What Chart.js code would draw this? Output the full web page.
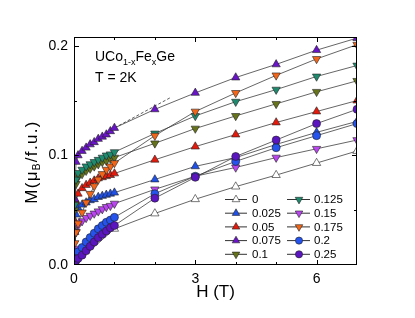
<!DOCTYPE html>
<html>
<head>
<meta charset="utf-8">
<script src="https://cdn.jsdelivr.net/npm/chart.js@4.4.1/dist/chart.umd.min.js"></script>
<style>
html, body { margin: 0; padding: 0; background: #fff; }
</style>
</head>
<body>
<canvas id="chart" width="415" height="318"></canvas>
<script>
// field values (T), shared by every composition
const fieldT = [0, 0.02, 0.05, 0.1, 0.2, 0.3, 0.4, 0.5, 0.6, 0.7, 0.8, 0.9, 1, 2, 3, 4, 5, 6, 7];

// Fe content x
const labels = ['0', '0.025', '0.05', '0.075', '0.1', '0.125', '0.15', '0.175', '0.2', '0.25'];

// M (muB / f.u.) per composition
const m_0    = [0, null, null, null, null, null, null, null, null, null, null, null, 0.033, 0.047, 0.060, 0.0715, 0.082, 0.093, 0.104];
const m_025  = [0, 0.030, 0.046, 0.052, 0.055, 0.057, 0.059, 0.060, 0.062, 0.063, 0.064, 0.065, 0.066, 0.078, 0.090, 0.098, 0.110, 0.121, 0.131];
const m_05   = [0, 0.040, 0.058, 0.065, 0.070, 0.073, 0.075, 0.077, 0.079, 0.080, 0.081, 0.082, 0.0835, 0.096, 0.108, 0.119, 0.130, 0.140, 0.150];
const m_075  = [0, 0.060, 0.094, 0.100, 0.104, 0.107, 0.110, 0.112, 0.115, 0.117, 0.119, 0.122, 0.125, 0.142, 0.157, 0.171, 0.183, 0.196, 0.207];
const m_1    = [0, 0.050, 0.074, 0.080, 0.083, 0.086, 0.088, 0.090, 0.092, 0.094, 0.095, 0.097, 0.098, 0.111, 0.1245, 0.136, 0.147, 0.158, 0.168];
const m_125  = [0, 0.055, 0.078, 0.084, 0.087, 0.090, 0.092, 0.094, 0.096, 0.098, 0.100, 0.101, 0.103, 0.120, 0.136, 0.149, 0.160, 0.172, 0.182];
const m_15   = [0, 0.015, 0.030, 0.036, 0.040, 0.043, 0.045, 0.047, 0.049, 0.051, 0.053, 0.054, 0.056, 0.069, 0.081, 0.089, 0.098, 0.106, 0.114];
const m_175  = [0, 0.020, 0.030, 0.038, 0.048, 0.057, 0.065, 0.072, 0.078, 0.083, 0.087, 0.090, 0.093, 0.118, 0.140, 0.157, 0.173, 0.188, 0.201];
const m_2    = [0, 0.004, 0.008, 0.012, 0.016, 0.021, 0.025, 0.029, 0.033, 0.036, 0.039, 0.041, 0.0435, 0.065, 0.081, 0.0945, 0.107, 0.118, 0.129];
const m_25   = [0, 0.002, 0.004, 0.006, 0.009, 0.013, 0.017, 0.021, 0.025, 0.028, 0.031, 0.034, 0.036, 0.061, 0.080, 0.099, 0.114, 0.129, 0.142];

// dashed linear extrapolation of x = 0.075
const fitH = [1.0, 2.4];
const fitM = [0.125, 0.153];

const xTicks = [0, 3, 6];
const yTicks = [0, 0.1, 0.2];

const series = [m_0, m_025, m_05, m_075, m_1, m_125, m_15, m_175, m_2, m_25];
const colors = ['#ffffff', '#1f50e8', '#e41a0c', '#6a14c8', '#66731a', '#1f8a6e', '#b845ee', '#f2661a', '#2453ee', '#5a14c0'];
const shapes = ['triangle', 'triangle', 'triangle', 'triangle', 'triangle', 'triangle', 'triangle', 'triangle', 'circle', 'circle'];
const rots   = [0, 0, 0, 0, 180, 180, 180, 180, 0, 0];

const FONT = '"Liberation Sans", Arial, Helvetica, sans-serif';

const datasets = series.map((m, i) => ({
  label: labels[i],
  data: fieldT.map((h, k) => ({ x: h, y: m[k] })),
  borderColor: '#333',
  borderWidth: 0.75,
  backgroundColor: colors[i],
  pointStyle: shapes[i],
  pointRotation: rots[i],
  pointRadius: shapes[i] === 'circle' ? 4 : 4.8,
  pointBackgroundColor: colors[i],
  pointBorderColor: '#222',
  pointBorderWidth: 0.6,
  spanGaps: true,
  clip: 0,
  order: series.length - i
}));

datasets.push({
  label: 'fit',
  data: fitH.map((h, k) => ({ x: h, y: fitM[k] })),
  borderColor: '#333',
  borderWidth: 0.8,
  borderDash: [3, 2],
  pointRadius: 0,
  clip: 0,
  order: 20
});

function drawRuns(ctx, parts, x, y) {
  for (const p of parts) {
    ctx.font = p.size + 'px ' + FONT;
    ctx.fillText(p.t, x, y + (p.dy || 0));
    x += ctx.measureText(p.t).width;
  }
  return x;
}
function runsWidth(ctx, parts) {
  let w = 0;
  for (const p of parts) {
    ctx.font = p.size + 'px ' + FONT;
    w += ctx.measureText(p.t).width;
  }
  return w;
}

const extras = {
  id: 'extras',
  afterDraw(chart) {
    const { ctx, chartArea: a, scales: { x, y } } = chart;
    ctx.save();
    ctx.strokeStyle = '#000';
    ctx.lineWidth = 1;
    ctx.strokeRect(a.left + 0.5, a.top + 0.5, a.right - a.left - 1, a.bottom - a.top - 1);

    // inward ticks, mirrored
    ctx.beginPath();
    for (let v = 1; v < 7; v++) {
      const px = Math.round(x.getPixelForValue(v)) + 0.5;
      const len = v % 3 === 0 ? 5 : 3;
      ctx.moveTo(px, a.bottom); ctx.lineTo(px, a.bottom - len);
      ctx.moveTo(px, a.top); ctx.lineTo(px, a.top + len);
    }
    for (let k = 1; k <= 4; k++) {
      const v = k * 0.05;
      const py = Math.round(y.getPixelForValue(v)) + 0.5;
      const len = k % 2 === 0 ? 5 : 3;
      ctx.moveTo(a.left, py); ctx.lineTo(a.left + len, py);
      ctx.moveTo(a.right, py); ctx.lineTo(a.right - len, py);
    }
    ctx.stroke();

    // axis titles
    ctx.fillStyle = '#000';
    ctx.textBaseline = 'alphabetic';
    ctx.textAlign = 'center';
    ctx.font = '17px ' + FONT;
    ctx.fillText('H (T)', (a.left + a.right) / 2, 297);

    ctx.textAlign = 'left';
    const yt = [
      { t: 'M(\u03bc', size: 17 },
      { t: 'B', size: 10, dy: 3 },
      { t: '/f.u.)', size: 17 }
    ];
    ctx.save();
    ctx.translate(37, 162);
    ctx.rotate(-Math.PI / 2);
    ctx.letterSpacing = '1.3px';
    drawRuns(ctx, yt, -runsWidth(ctx, yt) / 2, 0);
    ctx.restore();

    // composition / temperature note
    drawRuns(ctx, [
      { t: 'UCo', size: 14 },
      { t: '1-x', size: 9, dy: 4 },
      { t: 'Fe', size: 14 },
      { t: 'x', size: 9, dy: 4 },
      { t: 'Ge', size: 14 }
    ], 95, 61);
    ctx.font = '14px ' + FONT;
    ctx.fillText('T = 2K', 95, 82);

    // legend
    const cols = [
      { l0: 225, l1: 247, mx: 236, tx: 252 },
      { l0: 287, l1: 310, mx: 299, tx: 314 }
    ];
    ctx.textBaseline = 'middle';
    ctx.font = '11.5px ' + FONT;
    labels.forEach((lab, i) => {
      const c = cols[Math.floor(i / 5)];
      const ry = 199.5 + (i % 5) * 13.7;
      ctx.strokeStyle = '#333';
      ctx.lineWidth = 1;
      ctx.beginPath();
      ctx.moveTo(c.l0, ry); ctx.lineTo(c.l1, ry);
      ctx.stroke();
      ctx.fillStyle = colors[i];
      ctx.strokeStyle = '#222';
      ctx.lineWidth = 0.6;
      Chart.helpers.drawPoint(ctx, {
        pointStyle: shapes[i],
        rotation: rots[i],
        radius: shapes[i] === 'circle' ? 3.6 : 4.4,
        borderWidth: 0.6
      }, c.mx, ry);
      ctx.fillStyle = '#000';
      ctx.fillText(lab, c.tx, ry + 0.5);
    });
    ctx.restore();
  }
};

new Chart(document.getElementById('chart'), {
  type: 'line',
  data: { datasets },
  options: {
    responsive: false,
    animation: false,
    devicePixelRatio: 1,
    layout: { padding: { left: 0, top: 37, right: 58, bottom: 0 } },
    plugins: { legend: { display: false }, tooltip: { enabled: false } },
    scales: {
      x: {
        type: 'linear',
        min: 0,
        max: 7,
        grid: { display: false, drawTicks: false },
        border: { display: false },
        afterFit: s => { s.height = 53; },
        ticks: {
          stepSize: 1,
          padding: 6,
          color: '#000',
          font: { family: FONT, size: 14 },
          maxRotation: 0,
          autoSkip: false,
          callback: v => xTicks.includes(v) ? String(v) : ''
        }
      },
      y: {
        type: 'linear',
        min: 0,
        max: 0.208,
        grid: { display: false, drawTicks: false },
        border: { display: false },
        afterFit: s => { s.width = 74; },
        ticks: {
          stepSize: 0.05,
          includeBounds: false,
          padding: 6,
          color: '#000',
          font: { family: FONT, size: 14 },
          autoSkip: false,
          callback: v => yTicks.some(t => Math.abs(t - v) < 1e-9) ? v.toFixed(1) : ''
        }
      }
    }
  },
  plugins: [extras]
});
</script>
</body>
</html>
